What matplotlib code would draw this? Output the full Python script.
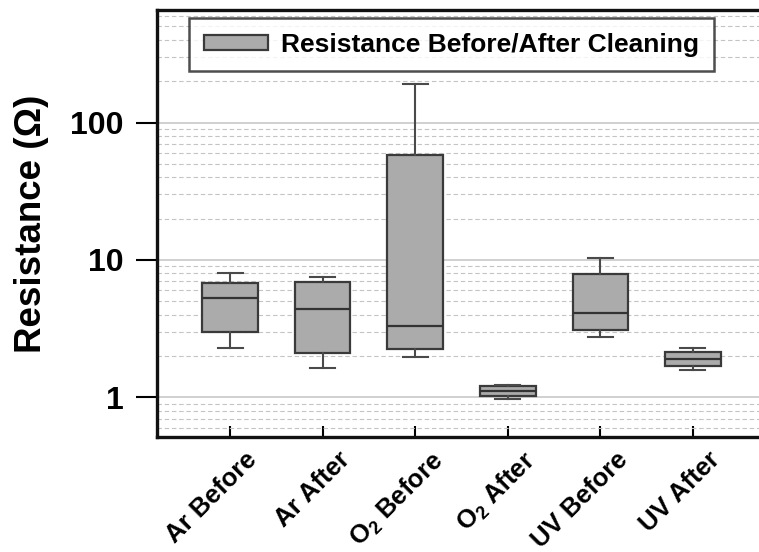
import matplotlib
matplotlib.use("Agg")
import matplotlib.pyplot as plt
from matplotlib.ticker import LogLocator, NullFormatter, FixedLocator
import matplotlib.transforms as mtransforms

plt.rcParams['font.family'] = ['Liberation Sans', 'DejaVu Sans']
plt.rcParams['mathtext.fontset'] = 'custom'
plt.rcParams['mathtext.rm'] = 'Liberation Sans:bold'
plt.rcParams['mathtext.it'] = 'Liberation Sans:bold'
plt.rcParams['mathtext.bf'] = 'Liberation Sans:bold'

categories = ["Ar Before", "Ar After", "O$_2$ Before", "O$_2$ After", "UV Before", "UV After"]
whisker_low = [2.29, 1.64, 1.97, 0.975, 2.75, 1.58]
q1 = [2.99, 2.11, 2.25, 1.03, 3.10, 1.69]
median = [5.29, 4.40, 3.31, 1.11, 4.12, 1.91]
q3 = [6.80, 6.92, 58.0, 1.21, 7.91, 2.14]
whisker_high = [8.04, 7.52, 190.5, 1.23, 10.3, 2.29]
legend_label = "Resistance Before/After Cleaning"

stats = []
for i, lab in enumerate(categories):
    stats.append(dict(label=lab, whislo=whisker_low[i], q1=q1[i], med=median[i],
                      q3=q3[i], whishi=whisker_high[i], fliers=[]))

fig = plt.figure(figsize=(7.59, 5.52), dpi=100)
W, H = 759, 552
left, right, top, bottom = 157, 766, 10, 437
ax = fig.add_axes([left / W, (H - bottom) / H, (right - left) / W, (bottom - top) / H])

positions = list(range(len(categories)))
bp = ax.bxp(stats, positions=positions, widths=0.6, patch_artist=True,
            showfliers=False,
            boxprops=dict(facecolor='#ababab', edgecolor='#3a3a3a', linewidth=1.6),
            medianprops=dict(color='#333333', linewidth=1.6),
            whiskerprops=dict(color='#4a4a4a', linewidth=1.5),
            capprops=dict(color='#4a4a4a', linewidth=1.5),
            capwidths=0.27, zorder=3)

ax.set_yscale('log')
ax.set_ylim(0.516, 658)
ax.set_xlim(-0.79, 5.79)

ax.yaxis.set_major_locator(FixedLocator([1, 10, 100]))
ax.set_yticklabels(['1', '10', '100'])
ax.yaxis.set_minor_locator(LogLocator(base=10, subs=[2, 3, 4, 5, 6, 7, 8, 9], numticks=20))
ax.yaxis.set_minor_formatter(NullFormatter())
ax.tick_params(axis='y', which='major', direction='out', length=15, width=1.5,
               labelsize=23, pad=9)
ax.tick_params(axis='y', which='minor', length=0)
for t in ax.get_yticklabels():
    t.set_fontweight('bold')

ax.grid(True, which='major', axis='y', color='#c8c8c8', linestyle='-', linewidth=1.2, zorder=0)
ax.grid(True, which='minor', axis='y', color='#c4c4c4', linestyle=(0, (4, 2.5)), linewidth=0.8, zorder=0)
ax.set_axisbelow(True)

ax.set_xticks(positions)
ax.set_xticklabels(categories, rotation=45, ha='right', rotation_mode='anchor',
                   fontsize=18.5, fontweight='bold')
ax.tick_params(axis='x', which='major', direction='in', length=8, width=1.5, pad=4)
ax.tick_params(axis='x', which='minor', bottom=False)
offset = mtransforms.ScaledTranslation(15 / 100, -5 / 100, fig.dpi_scale_trans)
for t in ax.get_xticklabels():
    t.set_transform(t.get_transform() + offset)

ax.set_ylabel("Resistance (\u03a9)", fontsize=26.5, fontweight='bold', labelpad=15)

for s in ['left', 'bottom', 'top']:
    ax.spines[s].set_linewidth(2.4)
    ax.spines[s].set_color('#111111')
ax.spines['right'].set_visible(False)

leg = ax.legend(handles=[bp['boxes'][0]], labels=[legend_label], loc='upper left',
                bbox_to_anchor=((189 - left) / (right - left), 1 - (18 - top) / (bottom - top)),
                borderaxespad=0, fancybox=False, frameon=True, edgecolor='#222222',
                prop=dict(size=19, weight='bold'), handlelength=2.45, handleheight=0.5,
                borderpad=0.55, handletextpad=0.5)
leg.get_frame().set_linewidth(1.8)
leg.set_zorder(5)

fig.savefig("out.png", dpi=100)
